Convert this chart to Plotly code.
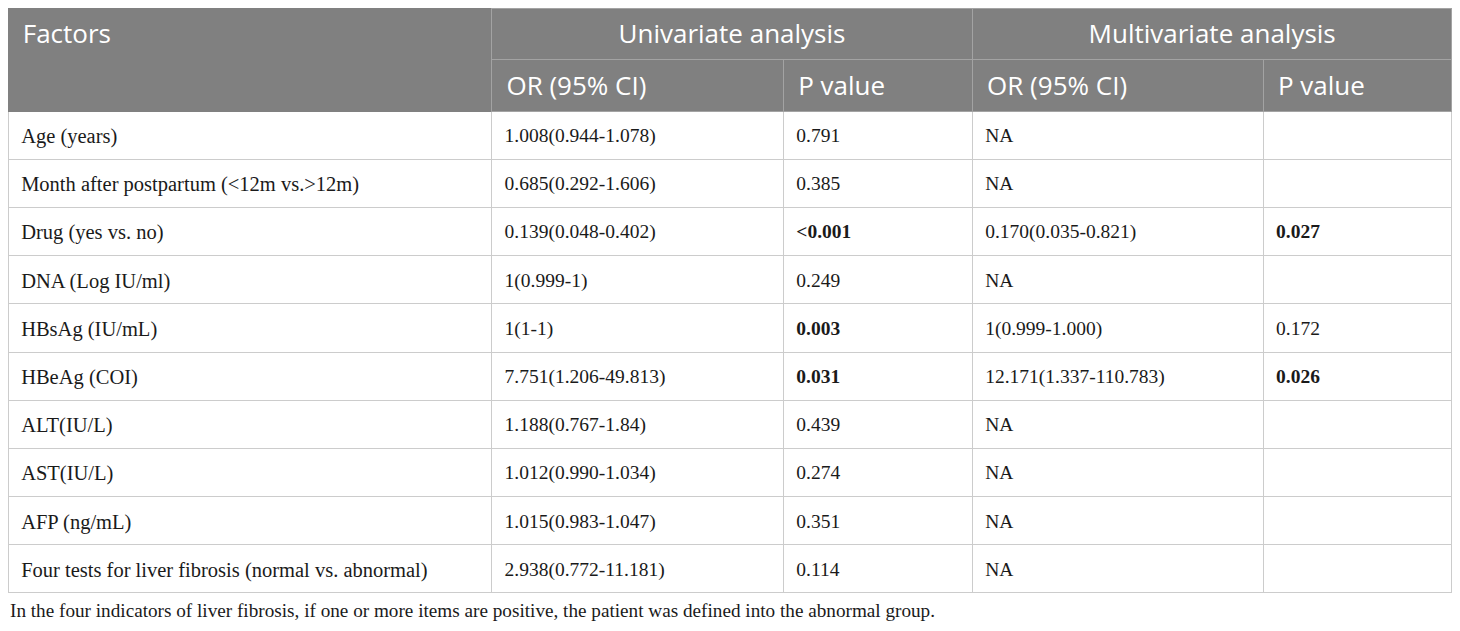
import plotly.graph_objects as go

# ---------------- data ----------------
factors = [
    "Age (years)",
    "Month after postpartum (<12m vs.>12m)",
    "Drug (yes vs. no)",
    "DNA (Log IU/ml)",
    "HBsAg (IU/mL)",
    "HBeAg (COI)",
    "ALT(IU/L)",
    "AST(IU/L)",
    "AFP (ng/mL)",
    "Four tests for liver fibrosis (normal vs. abnormal)",
]
uni_or = [
    "1.008(0.944-1.078)",
    "0.685(0.292-1.606)",
    "0.139(0.048-0.402)",
    "1(0.999-1)",
    "1(1-1)",
    "7.751(1.206-49.813)",
    "1.188(0.767-1.84)",
    "1.012(0.990-1.034)",
    "1.015(0.983-1.047)",
    "2.938(0.772-11.181)",
]
uni_p = ["0.791", "0.385", "<0.001", "0.249", "0.003", "0.031", "0.439", "0.274", "0.351", "0.114"]
uni_p_bold = [False, False, True, False, True, True, False, False, False, False]
multi_or = ["NA", "NA", "0.170(0.035-0.821)", "NA", "1(0.999-1.000)",
            "12.171(1.337-110.783)", "NA", "NA", "NA", "NA"]
multi_p = ["", "", "0.027", "", "0.172", "0.026", "", "", "", ""]
multi_p_bold = [False, False, True, False, False, True, False, False, False, False]

top_headers = ["Factors", "Univariate analysis", "Multivariate analysis"]
sub_headers = ["", "OR (95% CI)", "P value", "OR (95% CI)", "P value"]
footnote = ("In the four indicators of liver fibrosis, if one or more items are positive, "
            "the patient was defined into the abnormal group.")

# ---------------- style ----------------
OFF = 8                      # page body margin
W, H = 1460 - OFF, 631 - OFF
HDR_BG = "#808080"
HDR_LINE = "#a3a3a3"
GRID = "#cccccc"
TXT = "#1a1a1a"
CLEAR = "rgba(0,0,0,0)"
PAD = "\u00a0"
HDR_FONT = dict(family="Open Sans", size=26, color="white")
BODY_FAMILY = "Liberation Serif"

x0, x1 = 7, 1452
y_top, y_mid, y_hdr, y_bot = 7, 59, 111, 593
n_rows = len(factors)
row_h = (y_bot - y_hdr) / n_rows
top_widths = [484, 481, 480]
col_widths = [484, 292, 189, 291, 189]
HDR_SHIFT = 8
BODY_SHIFT = 6


def clamp(v):
    return min(1.0, max(0.0, v))


def px_x(v):
    return clamp((v - OFF) / W)


def px_y(v):
    return clamp(1 - (v - OFF) / H)


def esc(s):
    return s.replace("<", "&lt;").replace(">", "&gt;")


def cell(s, bold=False):
    if s == "":
        return ""
    s = esc(s)
    return "<span>" + PAD + (f"<b>{s}</b>" if bold else s) + "</span>"


body_values = [
    [cell(v) for v in factors],
    [cell(v) for v in uni_or],
    [cell(v, b) for v, b in zip(uni_p, uni_p_bold)],
    [cell(v) for v in multi_or],
    [cell(v, b) for v, b in zip(multi_p, multi_p_bold)],
]
empty5 = [[""] * n_rows for _ in range(5)]

fig = go.Figure()

# ---- structure: top merged header row ----
fig.add_trace(go.Table(
    domain=dict(x=[px_x(x0), px_x(x1)], y=[px_y(y_mid + 1), px_y(y_top)]),
    columnwidth=top_widths,
    header=dict(values=["", "", ""], fill_color=HDR_BG,
                line=dict(color=[HDR_BG, HDR_LINE, HDR_LINE], width=1),
                height=y_mid - y_top),
    cells=dict(values=[[], [], []], height=1, line=dict(width=0), fill_color=CLEAR),
))

# ---- structure: sub header + body grid ----
fig.add_trace(go.Table(
    domain=dict(x=[px_x(x0), px_x(x1)], y=[px_y(y_bot + 2), px_y(y_mid)]),
    columnwidth=col_widths,
    header=dict(values=[""] * 5, fill_color=HDR_BG,
                line=dict(color=[HDR_BG] + [HDR_LINE] * 4, width=1),
                height=y_hdr - y_mid),
    cells=dict(values=empty5, fill_color="white",
               line=dict(color=GRID, width=1), height=row_h),
))

# ---- text: top header row ----
fig.add_trace(go.Table(
    domain=dict(x=[px_x(x0), px_x(x1)],
                y=[px_y(y_mid + 1 + HDR_SHIFT), px_y(y_top + HDR_SHIFT)]),
    columnwidth=top_widths,
    header=dict(values=[PAD + top_headers[0], top_headers[1], top_headers[2]],
                align=["left", "center", "center"],
                fill_color=CLEAR, line=dict(width=0, color=CLEAR),
                font=HDR_FONT, height=y_mid - y_top),
    cells=dict(values=[[], [], []], height=1, line=dict(width=0), fill_color=CLEAR),
))

# ---- text: sub header + body ----
fig.add_trace(go.Table(
    domain=dict(x=[px_x(x0), px_x(x1)],
                y=[px_y(y_bot + 2 + BODY_SHIFT), px_y(y_mid + HDR_SHIFT)]),
    columnwidth=col_widths,
    header=dict(values=[(PAD + h) if h else "" for h in sub_headers],
                align="left", fill_color=CLEAR, line=dict(width=0, color=CLEAR),
                font=HDR_FONT, height=y_hdr - y_mid + (BODY_SHIFT - HDR_SHIFT)),
    cells=dict(values=body_values, align="left", fill_color=CLEAR,
               line=dict(width=0, color=CLEAR),
               font=dict(family=BODY_FAMILY, size=[20.5, 19.5, 19.5, 19.5, 19.5], color=TXT),
               height=row_h),
))

fig.add_annotation(
    text=footnote, xref="paper", yref="paper",
    x=px_x(8), y=px_y(610), xanchor="left", yanchor="middle",
    showarrow=False, font=dict(family=BODY_FAMILY, size=19.2, color=TXT),
)

fig.update_layout(
    width=W, height=H, margin=dict(l=0, r=0, t=0, b=0),
    paper_bgcolor="white", plot_bgcolor="white",
)

fig.write_html("out.html")
